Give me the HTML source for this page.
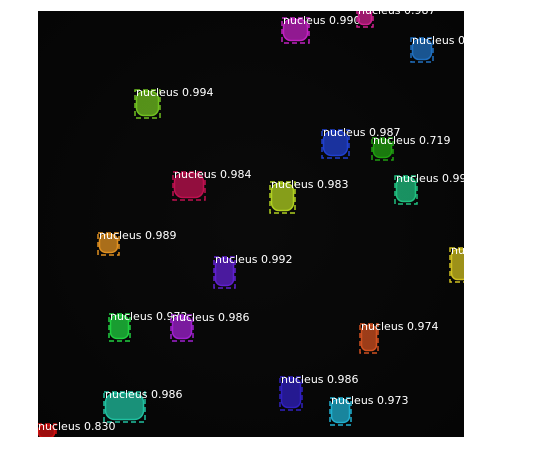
<!DOCTYPE html>
<html><head><meta charset="utf-8"><style>
html,body{margin:0;padding:0;background:#fff;}
svg{display:block;font-family:"DejaVu Sans","Liberation Sans",sans-serif;}
</style></head><body>
<svg id="c" width="534" height="466" viewBox="0 0 534 466">
<defs><clipPath id="cp"><rect x="38" y="11" width="426" height="426"/></clipPath>
<radialGradient id="bg" cx="50%" cy="50%" r="70%"><stop offset="0" stop-color="#0a0a0a"/><stop offset="1" stop-color="#050505"/></radialGradient></defs>
<rect x="38" y="11" width="426" height="426" fill="url(#bg)"/>
<g id="marks" clip-path="url(#cp)"></g>
</svg>
<script>
const scores=["0.990","0.987","0.985","0.994","0.987","0.719","0.984","0.983","0.991","0.989","0.992","0.980","0.972","0.986","0.974","0.986","0.986","0.973","0.830"];
const boxX0=[282,357,411,135,322,372,173,270,395,98,214,450,109,171,360,104,280,330,37];
const boxY0=[18,8,38,90,130,138,172,182,176,233,257,248,314,315,324,392,377,398,424];
const boxX1=[309,373,433,160,349,393,205,295,417,119,235,470,130,193,378,145,302,351,56];
const boxY1=[43,27,62,118,158,160,200,213,204,255,288,282,341,341,353,422,410,425,440];
const colors=["#c020c0","#d02090","#2070c0","#70c020","#2040d0","#20a010","#c01050","#b0d020","#20c080","#e09020","#6020d0","#d0c020","#20d040","#a020d0","#d05020","#20c0a0","#3020c0","#20b0d0","#d01010"];
const g=document.getElementById('marks');
const NS='http://www.w3.org/2000/svg';
for(let i=0;i<scores.length;i++){
  const x0=boxX0[i],y0=boxY0[i],x1=boxX1[i],y1=boxY1[i],w=x1-x0,h=y1-y0;
  const b=document.createElementNS(NS,'rect');
  
  
  b.setAttribute('x',x0);b.setAttribute('y',y0);b.setAttribute('width',w);b.setAttribute('height',h);
  b.setAttribute('fill','none');b.setAttribute('stroke',colors[i]);b.setAttribute('stroke-width','1.5');b.setAttribute('stroke-dasharray','5,3');
  g.appendChild(b);
  const e=document.createElementNS(NS,'rect');
  
  
  e.setAttribute('x',x0+1.5);e.setAttribute('y',y0+1.5);e.setAttribute('width',w-3);e.setAttribute('height',h-4);
  e.setAttribute('rx',Math.min(w,h)*0.3);
  e.setAttribute('fill',colors[i]);e.setAttribute('fill-opacity','0.75');e.setAttribute('stroke',colors[i]);e.setAttribute('stroke-width','1.5');
  g.appendChild(e);
  const t=document.createElementNS(NS,'text');
  
  
  t.setAttribute('x',x0+1);t.setAttribute('y',y0+6);
  t.setAttribute('font-size','11');t.setAttribute('fill','#fff');
  t.textContent='nucleus '+scores[i];
  g.appendChild(t);
}
</script>
</body></html>
